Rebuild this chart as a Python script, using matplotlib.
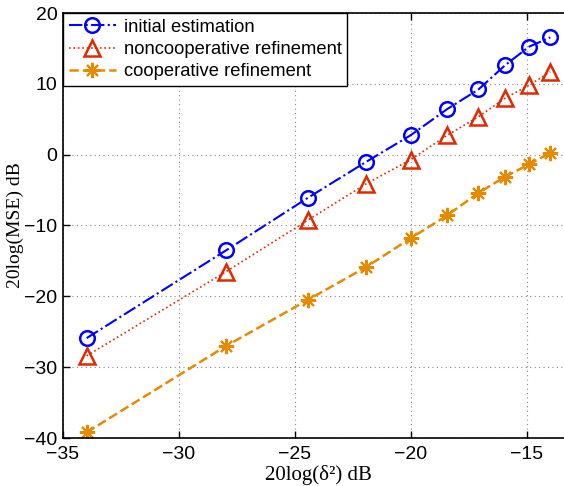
import numpy as np
import matplotlib.pyplot as plt

# x: 20log(delta^2) dB
delta_db = np.array([-33.98, -27.96, -24.44, -21.94, -20.0, -18.42, -17.08, -15.92, -14.89, -13.98])

mse_initial = np.array([-25.9, -13.5, -6.1, -1.05, 2.75, 6.45, 9.2, 12.65, 15.25, 16.55])
mse_noncoop = np.array([-28.4, -16.5, -9.25, -4.15, -0.7, 2.75, 5.35, 8.0, 9.8, 11.7])
mse_coop = np.array([-39.2, -27.0, -20.5, -15.9, -11.8, -8.55, -5.4, -3.1, -1.35, 0.25])

plt.rcParams['font.family'] = ['Liberation Sans', 'DejaVu Sans']

fig = plt.figure(figsize=(5.64, 4.86), dpi=100)
ax = fig.add_axes([63 / 564, 1 - 438 / 486, (573 - 63) / 564, (438 - 13) / 486])

ax.plot(delta_db, mse_initial, '-.', color='#0000ff', lw=1.5, marker='o', ms=10.5,
        mfc='none', mew=1.8, label='initial estimation')
ax.plot(delta_db, mse_noncoop, ':', color='#dd2a00', lw=1.2, marker='^', ms=11,
        mfc='none', mew=1.8, label='noncooperative refinement')
ax.plot(delta_db, mse_coop, '--', color='#e68a00', lw=1.8, marker=(8, 2, 0), ms=11,
        mfc='none', mew=1.5, label='cooperative refinement')

ax.set_xlim(-35, -13)
ax.set_ylim(-40, 20)
ax.set_xticks([-35, -30, -25, -20, -15])
ax.set_yticks([-40, -30, -20, -10, 0, 10, 20])
ax.set_xticklabels(['\u221235', '\u221230', '\u221225', '\u221220', '\u221215'])
ax.set_yticklabels(['\u221240', '\u221230', '\u221220', '\u221210', '0', '10', '20'])
ax.tick_params(direction='in', top=True, right=False, labelsize=14, length=5, width=1)
ax.tick_params(axis='x', pad=6)
ax.tick_params(axis='y', pad=4)
ax.grid(True, linestyle=(0, (1, 3)), color='#888888', lw=0.8)
for s in ax.spines.values():
    s.set_linewidth(1.2)
ax.spines['right'].set_visible(False)

ax.set_xlabel('20log(\u03b4\u00b2) dB', family='Liberation Serif', fontsize=15, labelpad=1)
ax.set_ylabel('20log(MSE) dB', family='Liberation Serif', fontsize=14, labelpad=0)

leg = ax.legend(loc='upper left', bbox_to_anchor=(0, 1), borderaxespad=0, fontsize=13.2,
                fancybox=False, framealpha=1, edgecolor='black', handlelength=2.6,
                handletextpad=0.4, labelspacing=0.3, borderpad=0.3)
leg.get_frame().set_linewidth(1.0)

fig.savefig('out.png', dpi=100)
